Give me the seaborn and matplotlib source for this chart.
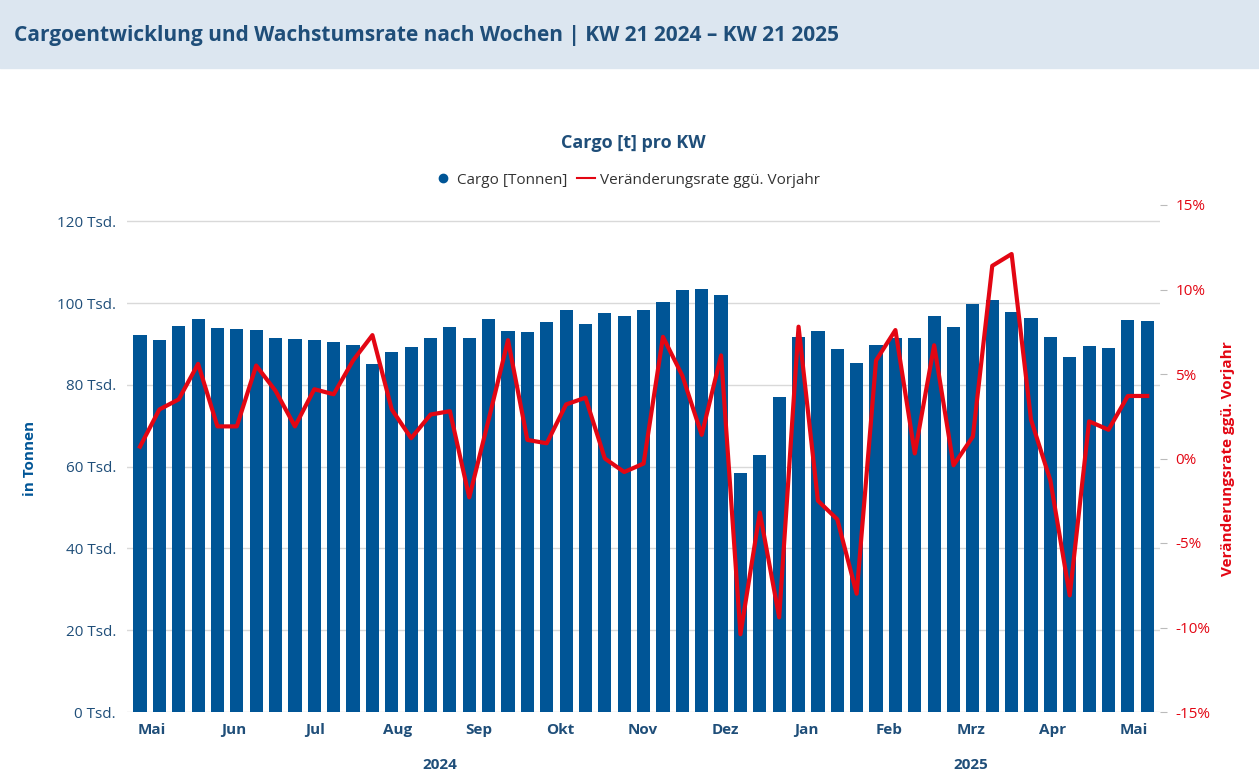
import matplotlib
matplotlib.use("Agg")
import matplotlib.pyplot as plt
import seaborn as sns
import pandas as pd
from matplotlib.patches import Rectangle

cargo = [92.2, 91.0, 94.4, 96.0, 93.9, 93.6, 93.4, 91.4, 91.2, 91.0, 90.5, 89.7, 85.1, 88.0,
         89.2, 91.4, 94.1, 91.4, 96.1, 93.2, 92.9, 95.4, 98.3, 94.9, 97.6, 96.8, 98.3, 100.2,
         103.2, 103.4, 102.0, 58.4, 62.8, 77.0, 91.7, 93.2, 88.8, 85.3, 89.7, 91.4, 91.4, 96.8,
         94.1, 99.8, 100.7, 97.8, 96.3, 91.7, 86.8, 89.5, 89.0, 95.8, 95.6]
rate = [0.7, 2.9, 3.5, 5.6, 1.9, 1.9, 5.5, 4.0, 1.9, 4.1, 3.8, 5.8, 7.3, 2.9, 1.2, 2.6, 2.8,
        -2.3, 2.3, 7.0, 1.1, 0.9, 3.2, 3.6, 0.0, -0.8, -0.3, 7.2, 4.9, 1.4, 6.1, -10.4, -3.2,
        -9.4, 7.8, -2.5, -3.6, -8.0, 5.8, 7.6, 0.3, 6.7, -0.4, 1.3, 11.4, 12.1, 2.3, -1.3,
        -8.1, 2.2, 1.7, 3.7, 3.7]
month_labels = ["Mai", "Jun", "Jul", "Aug", "Sep", "Okt", "Nov", "Dez", "Jan", "Feb", "Mrz", "Apr", "Mai"]
month_pos = [0.62, 4.85, 9.05, 13.3, 17.5, 21.7, 25.95, 30.2, 34.4, 38.65, 42.9, 47.1, 51.3]
year_labels = ["2024", "2025"]
year_pos = [15.5, 42.9]

df = pd.DataFrame({"kw": list(range(len(cargo))), "cargo": cargo, "rate": rate})
blue = "#005596"
dark = "#1f4e79"
red = "#e30613"
plt.rcParams["font.family"] = "Open Sans"

fig = plt.figure(figsize=(12.59, 7.76), dpi=100)
fig.patches.append(Rectangle((0, 1 - 68/776), 1, 68/776, transform=fig.transFigure,
                             color="#dce6f0", zorder=0))
fig.text(14/1259, 1 - 35/776, "Cargoentwicklung und Wachstumsrate nach Wochen | KW 21 2024 – KW 21 2025",
         fontsize=15, fontweight="bold", color=dark, va="center")

ax = fig.add_axes([127/1259, 1 - 712/776, (1160-127)/1259, 507/776])
sns.barplot(data=df, x="kw", y="cargo", color=blue, width=0.68, saturation=1, ax=ax, zorder=2)
ax.set_xlim(-0.67, 52.66)
ax.set_ylim(0, 124)
ax.set_yticks(range(0, 121, 20))
ax.set_yticklabels([f"{v} Tsd." for v in range(0, 121, 20)], color=dark, fontsize=11)
ax.yaxis.grid(True, color="#d9d9d9", lw=1, zorder=0)
ax.set_axisbelow(True)
ax.set_xticks(month_pos)
ax.set_xticklabels(month_labels, color=dark, fontsize=11, fontweight="bold")
ax.tick_params(length=0, pad=8)
for x, y in zip(year_pos, year_labels):
    ax.text(x, -0.105, y, transform=ax.get_xaxis_transform(), ha="center", va="center",
            color=dark, fontsize=11, fontweight="bold")
ax.set_xlabel("")
ax.set_ylabel("in Tonnen", color=blue, fontsize=11, fontweight="bold", labelpad=14)
for s in ax.spines.values():
    s.set_visible(False)

ax2 = ax.twinx()
sns.lineplot(data=df, x="kw", y="rate", color=red, lw=3, ax=ax2, zorder=3)
ax2.set_ylim(-15, 15)
ax2.set_yticks(range(-15, 16, 5))
ax2.set_yticklabels([f"{v}%" for v in range(-15, 16, 5)], color=red, fontsize=11)
ax2.tick_params(axis="y", length=5, color="#bbbbbb", pad=6)
ax2.set_ylabel("Veränderungsrate ggü. Vorjahr", color=red, fontsize=11, fontweight="bold", labelpad=8)
ax2.set_xlabel("")
for s in ax2.spines.values():
    s.set_visible(False)

fig.text(633/1259, 1 - 143/776, "Cargo [t] pro KW", ha="center", va="center",
         fontsize=13, fontweight="bold", color=dark)
from matplotlib.lines import Line2D
h = [Line2D([], [], marker="o", ls="", color=blue, markersize=6),
     Line2D([], [], color=red, lw=1.5)]
fig.legend(h, ["Cargo [Tonnen]", "Veränderungsrate ggü. Vorjahr"], loc="center",
           bbox_to_anchor=(627/1259, 1 - 180/776), ncol=2, frameon=False, fontsize=11,
           handlelength=1.2, handletextpad=0.3, columnspacing=0.6, labelcolor="#333333")
fig.savefig("out.png", dpi=100)
